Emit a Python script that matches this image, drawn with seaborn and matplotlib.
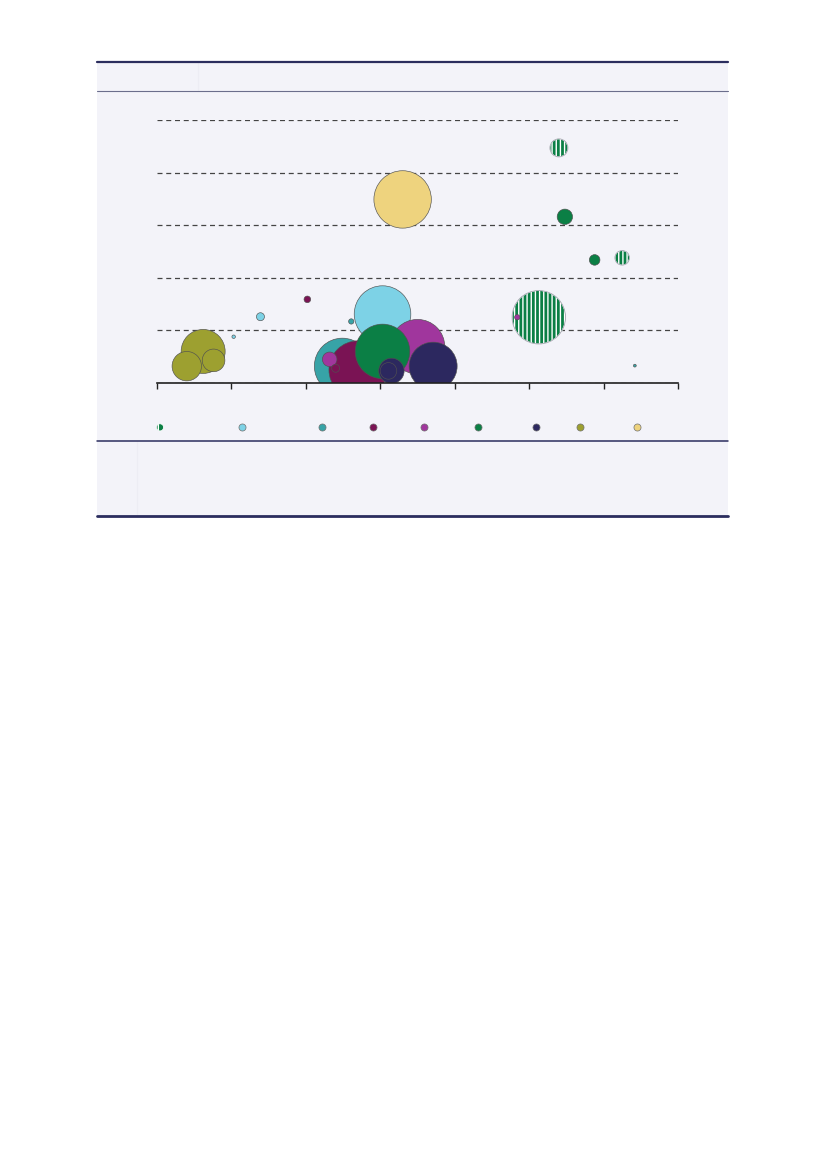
import matplotlib
matplotlib.use("Agg")
import matplotlib.pyplot as plt
import seaborn as sns
import pandas as pd
from matplotlib.patches import Rectangle
from matplotlib.lines import Line2D

# groups (legend order) and their colours
groups = ["striped", "light_blue", "teal", "maroon", "magenta", "green", "navy", "olive", "yellow"]
colours = ["#0B7F45", "#7DD2E6", "#37A3A7", "#7A1354", "#A0369D", "#0B7F45", "#2C285F", "#9DA030", "#EED37E"]
legend_labels = [""] * len(groups)

# solid bubbles, in drawing order
bubble_group = ["olive", "olive", "olive", "light_blue", "light_blue", "maroon", "teal",
                "light_blue", "teal", "maroon", "magenta", "maroon", "magenta", "green",
                "navy", "navy", "navy", "yellow", "magenta", "green", "green", "teal"]
bubble_x = [0.62, 0.40, 0.76, 1.03, 1.39, 2.02, 2.61,
            3.03, 2.49, 2.70, 2.32, 2.40, 3.50, 3.03,
            3.71, 3.15, 3.11, 3.30, 4.84, 5.48, 5.88, 6.42]
bubble_y = [0.60, 0.32, 0.43, 0.88, 1.26, 1.59, 1.17,
            1.31, 0.32, 0.25, 0.45, 0.28, 0.69, 0.60,
            0.32, 0.23, 0.23, 3.49, 1.25, 3.16, 2.34, 0.33]
bubble_value = [484, 216, 128, 3, 16, 11, 7,
                801, 784, 841, 53, 16, 745, 745,
                576, 161, 69, 824, 7, 59, 28, 2]

# striped bubbles
striped_x = [5.13, 5.40, 6.25]
striped_y = [1.25, 4.47, 2.38]
striped_value = [713, 81, 53]

palette = dict(zip(groups, colours))
df = pd.DataFrame({"x": bubble_x, "y": bubble_y, "value": bubble_value, "group": bubble_group})
df_striped = pd.DataFrame({"x": striped_x, "y": striped_y, "value": striped_value})

sns.set_style("white")
plt.rcParams["hatch.color"] = "white"
plt.rcParams["hatch.linewidth"] = 1.0

fig = plt.figure(figsize=(8.26, 11.69), dpi=100)
fig.patch.set_facecolor("white")

# panel background and rules
fig.add_artist(Rectangle((97 / 826, 1 - 517 / 1169), 631 / 826, 456 / 1169,
                         transform=fig.transFigure, facecolor="#F3F3F9", edgecolor="none", zorder=-10))
def hline(py, lw, c):
    fig.add_artist(Line2D([97 / 826, 728 / 826], [1 - py / 1169] * 2, transform=fig.transFigure,
                          color=c, lw=lw, zorder=-5))
def vline(px, py0, py1, c):
    fig.add_artist(Line2D([px / 826] * 2, [1 - py0 / 1169, 1 - py1 / 1169], transform=fig.transFigure,
                          color=c, lw=0.8, zorder=-6))
hline(62, 1.6, "#2B2D5E")
hline(91, 0.8, "#6B6E8C")
hline(440.5, 1.1, "#2B2D5E")
hline(516, 2.0, "#2B2D5E")
vline(198, 62, 91, "#EDEDF4")
vline(137, 441, 516, "#EDEDF4")

ax = fig.add_axes([157 / 826, 1 - 383 / 1169, 521 / 826, 263 / 1169])
ax.patch.set_visible(False)

size_kw = dict(size="value", sizes=(0, 2073.6), size_norm=(0, 1000), legend=False)

sns.scatterplot(data=df_striped, x="x", y="y", color="#0B7F45", edgecolor="white",
                linewidth=0.6, ax=ax, **size_kw)
ax.collections[-1].set_hatch("||||")
sns.scatterplot(data=df_striped, x="x", y="y", color="none", edgecolor="#a4a4b0",
                linewidth=0.6, ax=ax, **size_kw)
sns.scatterplot(data=df, x="x", y="y", hue="group", palette=palette, edgecolor="#505050",
                linewidth=0.45, ax=ax, **size_kw)

ax.set_xlim(0, 7)
ax.set_ylim(0, 5)
ax.set_xticks(range(0, 8))
ax.set_yticks(range(0, 6))
ax.set_xticklabels([])
ax.set_yticklabels([])
ax.set_xlabel("")
ax.set_ylabel("")
ax.set_axisbelow(True)
ax.yaxis.grid(True, linestyle=(0, (4, 3)), color="#444444", lw=0.9)
ax.xaxis.grid(False)
for s in ["left", "top", "right"]:
    ax.spines[s].set_visible(False)
ax.spines["bottom"].set_color("#222222")
ax.spines["bottom"].set_linewidth(1.2)
ax.tick_params(axis="x", bottom=True, direction="out", length=4, width=1, color="#222222")
ax.tick_params(axis="y", left=False)

# legend: one small entry per group, placed along the row under the chart
legend_px = [160, 242, 322, 373, 424, 478, 536, 580, 637]
for g, c, lab, px in zip(groups, colours, legend_labels, legend_px):
    if g == "striped":
        h = ax.scatter([], [], s=26, color=c, edgecolor="white", linewidth=0.5, hatch="|||")
    else:
        h = ax.scatter([], [], s=26, color=c, edgecolor="#707070", linewidth=0.5)
    leg = fig.legend([h], [lab], loc="center",
                     bbox_to_anchor=(px / 826, 1 - 427 / 1169), frameon=False,
                     handlelength=0.8, handletextpad=0, borderpad=0, borderaxespad=0,
                     scatterpoints=1)

fig.savefig("out.png", dpi=100)
